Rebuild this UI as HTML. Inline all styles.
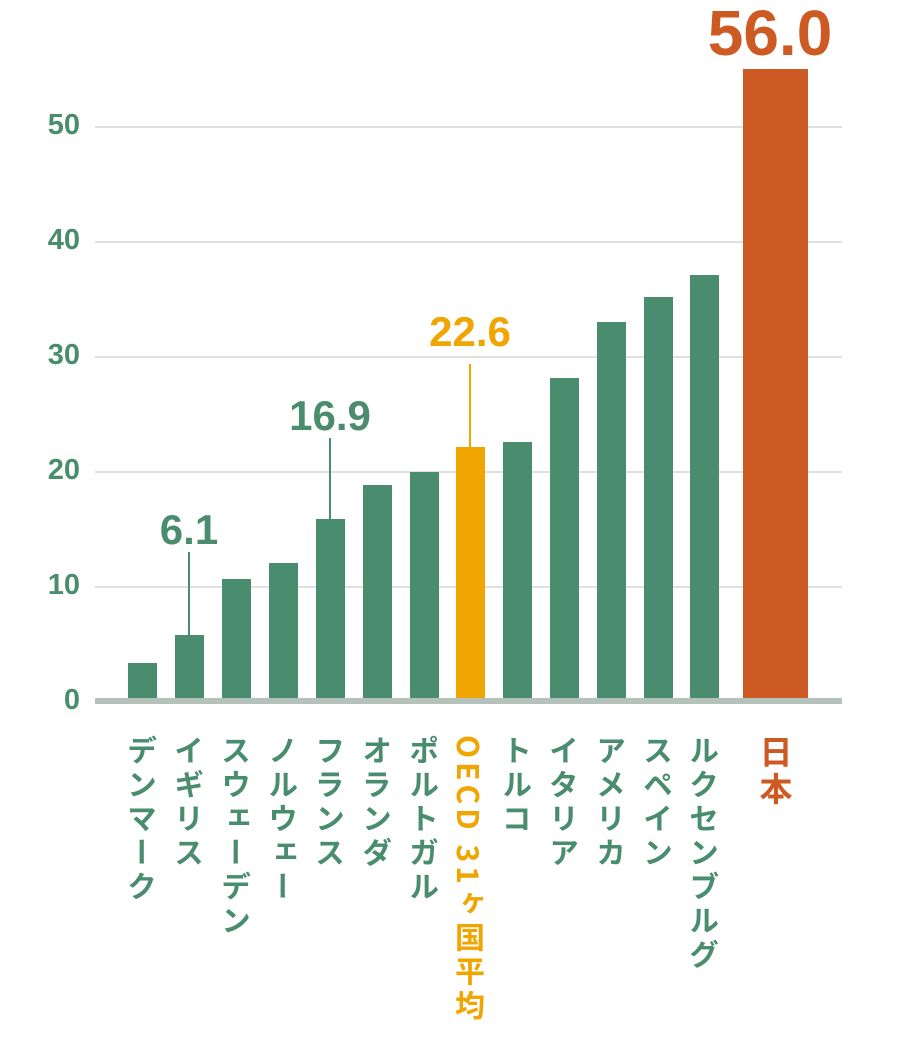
<!DOCTYPE html>
<html><head><meta charset="utf-8"><style>
body{margin:0;width:898px;height:1040px;background:#fff;overflow:hidden;position:relative;font-family:"Liberation Sans","Noto Sans CJK JP",sans-serif;font-weight:bold}
.g{position:absolute;left:95px;width:747px;height:2px;background:#dde2df}
.t{position:absolute;right:818px;font-size:29px;color:#4a8d6e;line-height:1}
.b{position:absolute;background:#4a8d6e;width:29px}
.l{position:absolute;top:735px;writing-mode:vertical-rl;font-family:"Noto Sans CJK JP",sans-serif;font-size:30px;color:#4a8d6e;line-height:1;width:30px;letter-spacing:4px}
.a{position:absolute;font-size:42px;color:#4a8d6e;text-align:center;width:120px;line-height:1}
.v{position:absolute;width:2px;background:#4a8d6e}
</style></head><body>
<div class="g" style="top:126px"></div><div class="g" style="top:241px"></div><div class="g" style="top:356px"></div><div class="g" style="top:471px"></div><div class="g" style="top:586px"></div>
<div class="t" style="top:111px">50</div><div class="t" style="top:226px">40</div><div class="t" style="top:341px">30</div><div class="t" style="top:456px">20</div><div class="t" style="top:571px">10</div><div class="t" style="top:686px">0</div>
<div class="b" style="left:128px;top:663px;height:37px"></div>
<div class="b" style="left:175px;top:635px;height:65px"></div>
<div class="b" style="left:222px;top:579px;height:121px"></div>
<div class="b" style="left:269px;top:563px;height:137px"></div>
<div class="b" style="left:316px;top:519px;height:181px"></div>
<div class="b" style="left:363px;top:485px;height:215px"></div>
<div class="b" style="left:410px;top:472px;height:228px"></div>
<div class="b" style="left:456px;top:447px;height:253px;background:#f0a500"></div>
<div class="b" style="left:503px;top:442px;height:258px"></div>
<div class="b" style="left:550px;top:378px;height:322px"></div>
<div class="b" style="left:597px;top:322px;height:378px"></div>
<div class="b" style="left:644px;top:297px;height:403px"></div>
<div class="b" style="left:690px;top:275px;height:425px"></div>
<div class="b" style="left:743px;top:69px;height:631px;width:65px;background:#cc5a22"></div>
<div style="position:absolute;left:95px;top:698px;width:747px;height:6px;background:#b5c1bb"></div>
<div class="v" style="left:188px;top:552px;height:83px"></div>
<div class="a" style="left:129px;top:509px">6.1</div>
<div class="v" style="left:329px;top:438px;height:81px"></div>
<div class="a" style="left:270px;top:395px">16.9</div>
<div class="v" style="left:469px;top:364px;height:83px;background:#f0a500"></div>
<div class="a" style="left:410px;top:311px;color:#f0a500">22.6</div>
<div class="a" style="left:690px;top:1px;width:160px;font-size:64px;color:#cc5a22">56.0</div>
<div class="l" style="left:127px">デンマーク</div>
<div class="l" style="left:174px">イギリス</div>
<div class="l" style="left:221px">スウェーデン</div>
<div class="l" style="left:268px">ノルウェー</div>
<div class="l" style="left:315px">フランス</div>
<div class="l" style="left:362px">オランダ</div>
<div class="l" style="left:409px">ポルトガル</div>
<div class="l" style="left:455px;color:#f0a500">OECD 31ヶ国平均</div>
<div class="l" style="left:502px">トルコ</div>
<div class="l" style="left:549px">イタリア</div>
<div class="l" style="left:596px">アメリカ</div>
<div class="l" style="left:643px">スペイン</div>
<div class="l" style="left:689px">ルクセンブルグ</div>
<div class="l" style="left:759px;color:#cc5a22;font-size:33px;width:33px">日本</div>
</body></html>
